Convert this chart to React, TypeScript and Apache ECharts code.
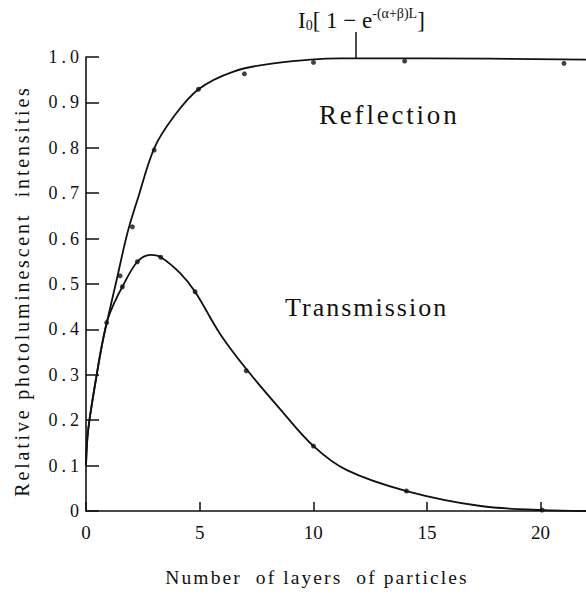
import React, { useEffect, useRef } from "react";
import * as echarts from "echarts";

// ---- data ----
const xTickValues = [0, 5, 10, 15, 20];

// fitted curve, Reflection  I0[1 - e^-(a+b)L]
const reflectionCurve: [number, number][] = [
  [0, 0.1], [0.06, 0.16], [0.18, 0.21], [0.47, 0.3], [0.7, 0.365], [0.94, 0.42],
  [1.38, 0.516], [1.82, 0.612], [2.26, 0.685], [3.01, 0.8], [3.85, 0.868],
  [4.95, 0.929], [6.49, 0.968], [8.25, 0.986], [11.2, 0.997], [15, 0.997], [22, 0.994],
];

// fitted curve, Transmission
const transmissionCurve: [number, number][] = [
  [0, 0.1], [0.06, 0.16], [0.18, 0.21], [0.47, 0.3], [0.7, 0.365], [0.94, 0.42],
  [1.23, 0.457], [1.6, 0.494], [2.26, 0.549], [2.85, 0.564], [3.29, 0.559],
  [4.14, 0.524], [4.8, 0.483], [5.9, 0.39], [7.08, 0.311], [8.55, 0.224],
  [10.01, 0.143], [11.48, 0.09], [14.1, 0.044], [17.36, 0.011], [20.07, 0.002], [22, 0],
];

// measured points
const reflectionPoints: [number, number][] = [
  [0.91, 0.415], [1.5, 0.518], [2.04, 0.626], [3.0, 0.795], [4.95, 0.929],
  [6.97, 0.963], [10.01, 0.988], [14.02, 0.991], [21.03, 0.986],
];
const transmissionPoints: [number, number][] = [
  [1.6, 0.494], [2.26, 0.549], [3.29, 0.559], [4.8, 0.483], [7.05, 0.309],
  [10.01, 0.143], [14.1, 0.044], [20.07, 0.002],
];

const xAxisTitle = "Number  of layers  of particles";
const yAxisTitle = "Relative photoluminescent  intensities";

const SERIF = "Times New Roman";
const INK = "#111";

// the scanned lettering is widely tracked; widen it with CSS letter-spacing
const trackingCss = `
#pl-chart svg text[style*="27px"] { letter-spacing: 2.8px; }
#pl-chart svg text[style*="26px"] { letter-spacing: 2px; }
#pl-chart svg text[style*="18px"] { letter-spacing: 4px; }
#pl-chart svg text[style*="19.5px"] { letter-spacing: 2.1px; }
#pl-chart svg text[style*="20px"] { letter-spacing: 2.8px; }
`;

export default function App() {
  const ref = useRef<HTMLDivElement>(null);
  useEffect(() => {
    if (!ref.current) return;
    const chart = echarts.init(ref.current, undefined, { renderer: "svg" });
    const lineSeries = (name: string, data: [number, number][]) => ({
      name,
      type: "line",
      data,
      smooth: 0.35,
      showSymbol: false,
      symbol: "none",
      lineStyle: { color: INK, width: 1.8 },
      z: 3,
    });
    const dotSeries = (name: string, data: [number, number][]) => ({
      name,
      type: "scatter",
      data,
      symbol: "circle",
      symbolSize: 5,
      itemStyle: { color: INK },
      z: 4,
    });
    chart.setOption({
      animation: false,
      backgroundColor: "#fff",
      textStyle: { fontFamily: SERIF },
      grid: { left: 86, right: 0, top: 57, bottom: 85 },
      xAxis: {
        type: "value",
        min: 0,
        max: 22,
        interval: 5,
        axisLine: { show: true, lineStyle: { color: INK, width: 1.6 } },
        axisTick: {
          show: true,
          inside: true,
          length: 9,
          customValues: xTickValues,
          lineStyle: { color: INK, width: 1.5 },
        },
        axisLabel: {
          customValues: xTickValues,
          margin: 12,
          fontFamily: SERIF,
          fontSize: 19,
          color: INK,
        },
        splitLine: { show: false },
      },
      yAxis: {
        type: "value",
        min: 0,
        max: 1,
        interval: 0.1,
        axisLine: { show: true, lineStyle: { color: INK, width: 1.6 } },
        axisTick: { show: true, inside: true, length: 13, lineStyle: { color: INK, width: 1.5 } },
        axisLabel: {
          margin: 3,
          fontFamily: SERIF,
          fontSize: 18,
          color: INK,
          formatter: (v: number) => {
            const r = Math.round(v * 10) / 10;
            return r === 0 ? "0" : r.toFixed(1);
          },
        },
        splitLine: { show: false },
      },
      series: [
        lineSeries("Reflection", reflectionCurve),
        lineSeries("Transmission", transmissionCurve),
        dotSeries("Reflection points", reflectionPoints),
        dotSeries("Transmission points", transmissionPoints),
      ],
      graphic: [
        {
          type: "text",
          left: 319,
          top: 101,
          style: { text: "Reflection", fontFamily: SERIF, fontSize: 27, fill: INK },
        },
        {
          type: "text",
          left: 285,
          top: 294,
          style: { text: "Transmission", fontFamily: SERIF, fontSize: 26, fill: INK },
        },
        {
          type: "text",
          x: 317,
          y: 577,
          style: {
            text: xAxisTitle,
            fontFamily: SERIF,
            fontSize: 19.5,
            fill: INK,
            align: "center",
            verticalAlign: "middle",
          },
        },
        {
          type: "text",
          x: 22,
          y: 291,
          rotation: Math.PI / 2,
          style: {
            text: yAxisTitle,
            fontFamily: SERIF,
            fontSize: 20,
            fill: INK,
            align: "center",
            verticalAlign: "middle",
          },
        },
        {
          type: "text",
          x: 298,
          y: 6,
          style: {
            text: "{m|I}{s|0}{m|[ 1 − e}{p|-(α+β)L}{m|]}",
            fill: INK,
            verticalAlign: "top",
            rich: {
              m: { fontFamily: SERIF, fontSize: 23, lineHeight: 26, verticalAlign: "bottom", fill: INK },
              s: { fontFamily: SERIF, fontSize: 14, lineHeight: 26, verticalAlign: "bottom", fill: INK },
              p: { fontFamily: SERIF, fontSize: 14, verticalAlign: "top", fill: INK },
            },
          },
        },
        {
          type: "line",
          shape: { x1: 356, y1: 32, x2: 356, y2: 59 },
          style: { stroke: INK, lineWidth: 1.5 },
        },
      ],
    });
    return () => chart.dispose();
  }, []);
  return (
    <>
      <style>{trackingCss}</style>
      <div
        id="pl-chart"
        ref={ref}
        style={{ position: "absolute", left: 0, top: 0, width: 586, height: 596, background: "#fff" }}
      />
    </>
  );
}
